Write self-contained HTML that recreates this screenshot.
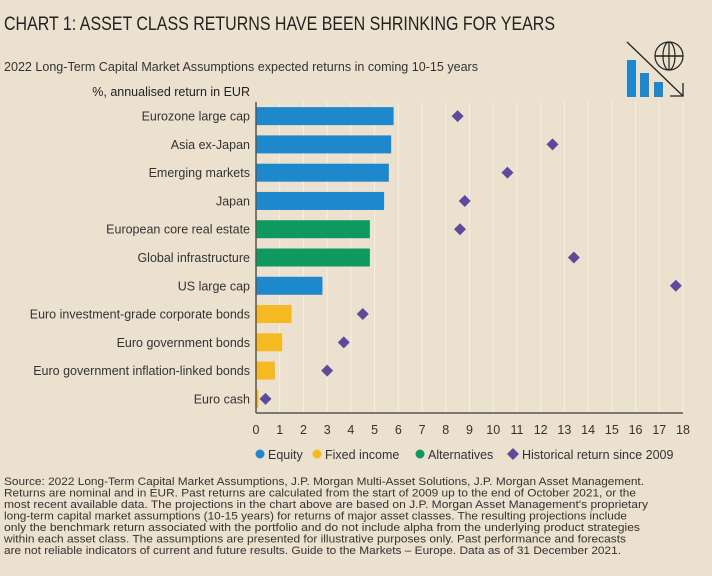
<!DOCTYPE html>
<html><head><meta charset="utf-8"><style>
body{margin:0;background:#ece1cf;font-family:"Liberation Sans",sans-serif;}
svg{display:block}
</style></head><body>
<svg width="712" height="576" xmlns="http://www.w3.org/2000/svg">
<rect width="712" height="576" fill="#ece1cf"/>
<text x="4" y="30" font-size="19" fill="#222" textLength="551" lengthAdjust="spacingAndGlyphs">CHART 1: ASSET CLASS RETURNS HAVE BEEN SHRINKING FOR YEARS</text>
<text x="4" y="71" font-size="12.5" fill="#333" textLength="474" lengthAdjust="spacingAndGlyphs">2022 Long-Term Capital Market Assumptions expected returns in coming 10-15 years</text>
<text x="250" y="96" font-size="12.5" fill="#222" text-anchor="end">%, annualised return in EUR</text>
<g>
<rect x="627" y="60" width="9" height="37" fill="#1e88cc"/><rect x="640" y="73" width="9" height="24" fill="#1e88cc"/><rect x="654" y="82" width="9" height="15" fill="#1e88cc"/>
<line x1="627" y1="42" x2="683" y2="96" stroke="#222" stroke-width="1.3"/><polyline points="670,96 683,96 683,83" fill="none" stroke="#222" stroke-width="1.3"/>
<circle cx="669" cy="56" r="14" fill="none" stroke="#222" stroke-width="1.2"/><ellipse cx="669" cy="56" rx="6" ry="14" fill="none" stroke="#222" stroke-width="1.2"/><line x1="655" y1="56" x2="683" y2="56" stroke="#222" stroke-width="1.6"/><line x1="669" y1="42" x2="669" y2="70" stroke="#222" stroke-width="1.2"/>
</g>
<g id="plot"></g>
<g font-size="12.5" fill="#333">
<circle cx="260" cy="454" r="4.5" fill="#1e88cc"/><text x="268" y="459">Equity</text>
<circle cx="317" cy="454" r="4.5" fill="#f5b921"/><text x="325" y="459">Fixed income</text>
<circle cx="420" cy="454" r="4.5" fill="#0f9960"/><text x="428" y="459">Alternatives</text>
<path d="M513,448 L519,454 L513,460 L507,454Z" fill="#5e4a9c"/><text x="522" y="459">Historical return since 2009</text>
</g>
<g font-size="11" fill="#333">
<text x="4" y="485" textLength="640" lengthAdjust="spacingAndGlyphs">Source: 2022 Long-Term Capital Market Assumptions, J.P. Morgan Multi-Asset Solutions, J.P. Morgan Asset Management.</text>
<text x="4" y="496.5" textLength="632" lengthAdjust="spacingAndGlyphs">Returns are nominal and in EUR. Past returns are calculated from the start of 2009 up to the end of October 2021, or the</text>
<text x="4" y="508" textLength="644" lengthAdjust="spacingAndGlyphs">most recent available data. The projections in the chart above are based on J.P. Morgan Asset Management's proprietary</text>
<text x="4" y="519.5" textLength="623" lengthAdjust="spacingAndGlyphs">long-term capital market assumptions (10-15 years) for returns of major asset classes. The resulting projections include</text>
<text x="4" y="531" textLength="636" lengthAdjust="spacingAndGlyphs">only the benchmark return associated with the portfolio and do not include alpha from the underlying product strategies</text>
<text x="4" y="542.5" textLength="622" lengthAdjust="spacingAndGlyphs">within each asset class. The assumptions are presented for illustrative purposes only. Past performance and forecasts</text>
<text x="4" y="554" textLength="617" lengthAdjust="spacingAndGlyphs">are not reliable indicators of current and future results. Guide to the Markets – Europe. Data as of 31 December 2021.</text>
</g>
</svg>
<script>
const categories=["Eurozone large cap","Asia ex-Japan","Emerging markets","Japan","European core real estate","Global infrastructure","US large cap","Euro investment-grade corporate bonds","Euro government bonds","Euro government inflation-linked bonds","Euro cash"];
const expected=[5.8,5.7,5.6,5.4,4.8,4.8,2.8,1.5,1.1,0.8,0.1];
const historical=[8.5,12.5,10.6,8.8,8.6,13.4,17.7,4.5,3.7,3.0,0.4];
const assetClass=["equity","equity","equity","equity","alt","alt","equity","fixed","fixed","fixed","fixed"];
const ticks=[0,1,2,3,4,5,6,7,8,9,10,11,12,13,14,15,16,17,18];
const colors={equity:"#1e88cc",fixed:"#f5b921",alt:"#0f9960"};
const NS="http://www.w3.org/2000/svg";
const x0=256,x1=683,yTop=102,yBot=413,rowH=(yBot-yTop)/categories.length;
const xs=v=>x0+v/18*(x1-x0);
const yc=i=>yTop+rowH*(i+0.5);
const g=document.getElementById('plot');
function mk(t,a){const e=document.createElementNS(NS,t);for(const k in a)e.setAttribute(k,a[k]);g.appendChild(e);return e;}
ticks.forEach(t=>{
 if(t>0){const l=mk('line',{x1:xs(t),x2:xs(t),y1:yTop,y2:yBot,stroke:'#f6efe4','stroke-width':1});
 
 }
 const tx=mk('text',{x:xs(t),y:434,'font-size':12.5,fill:'#333','text-anchor':'middle'});tx.textContent=t;
 
 
});
categories.forEach((c,i)=>{
 const y=yc(i);
 const lb=mk('text',{x:250,y:y+4.5,'font-size':12.5,fill:'#333','text-anchor':'end'});lb.textContent=c;
 
 
 const b=mk('rect',{x:x0,y:y-9,width:xs(expected[i])-x0,height:18,fill:colors[assetClass[i]]});
 
 
 const hx=xs(historical[i]);
 const d=mk('path',{d:`M${hx},${y-6} L${hx+6},${y} L${hx},${y+6} L${hx-6},${y}Z`,fill:'#5e4a9c'});
 
 
});
const ax=mk('line',{x1:x0,x2:x1,y1:yBot,y2:yBot,stroke:'#555','stroke-width':1.5});


const ay=mk('line',{x1:x0,x2:x0,y1:yTop,y2:yBot,stroke:'#555','stroke-width':1.5});


</script>
</body></html>
